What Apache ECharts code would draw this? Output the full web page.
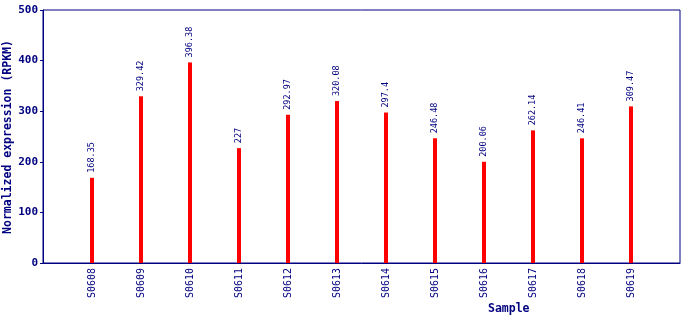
<!DOCTYPE html>
<html><head><meta charset="utf-8">
<script src="https://cdn.jsdelivr.net/npm/echarts@6/dist/echarts.min.js"></script>
<style>html,body{margin:0;padding:0;background:#fff}#c{width:690px;height:320px}</style>
</head><body><div id="c"></div>
<script>
const samples = ["S0608","S0609","S0610","S0611","S0612","S0613","S0614","S0615","S0616","S0617","S0618","S0619"];
const values = [168.35,329.42,396.38,227,292.97,320.08,297.4,246.48,200.06,262.14,246.41,309.47];
const yTicks = [0,100,200,300,400,500];

const cats = [""].concat(samples, [""]);
const data = [null].concat(values, [null]);
const navy = "#000080";
const font = "'DejaVu Sans Mono', 'Liberation Mono', monospace";
const chart = echarts.init(document.getElementById('c'), null, {renderer:'canvas'});
chart.setOption({
  animation:false,
  grid:{left:43,right:10,top:10,bottom:57,show:true,borderColor:navy,borderWidth:1,containLabel:false,outerBoundsMode:'none'},
  xAxis:{type:'category',data:cats,boundaryGap:false,
    axisLine:{lineStyle:{color:navy}},axisTick:{show:false},
    axisLabel:{rotate:90,color:navy,fontFamily:font,fontSize:10,margin:5,interval:0}},
  yAxis:{type:'value',min:yTicks[0],max:yTicks[yTicks.length-1],interval:100,
    splitLine:{show:false},axisLine:{show:true,lineStyle:{color:navy}},
    axisTick:{show:true,length:3,lineStyle:{color:navy}},
    axisLabel:{color:navy,fontFamily:font,fontSize:11,fontWeight:'bold',margin:5}},
  graphic:[
    {type:'text',x:8,y:137,rotation:Math.PI/2,style:{text:'Normalized expression (RPKM)',fill:navy,align:'center',verticalAlign:'middle',font:"bold 11.5px 'DejaVu Sans Mono', monospace"}},
    {type:'text',left:488,top:303,style:{text:'Sample',fill:navy,font:"bold 11.5px 'DejaVu Sans Mono', monospace"}}],
  series:[{type:'bar',data:data,barWidth:4,itemStyle:{color:'#ff0000'},
    label:{show:true,position:'top',rotate:90,align:'left',verticalAlign:'middle',distance:5,
      color:navy,fontFamily:font,fontSize:8.5,formatter:p=>p.value==null?'':String(p.value)}}]
});
</script></body></html>
